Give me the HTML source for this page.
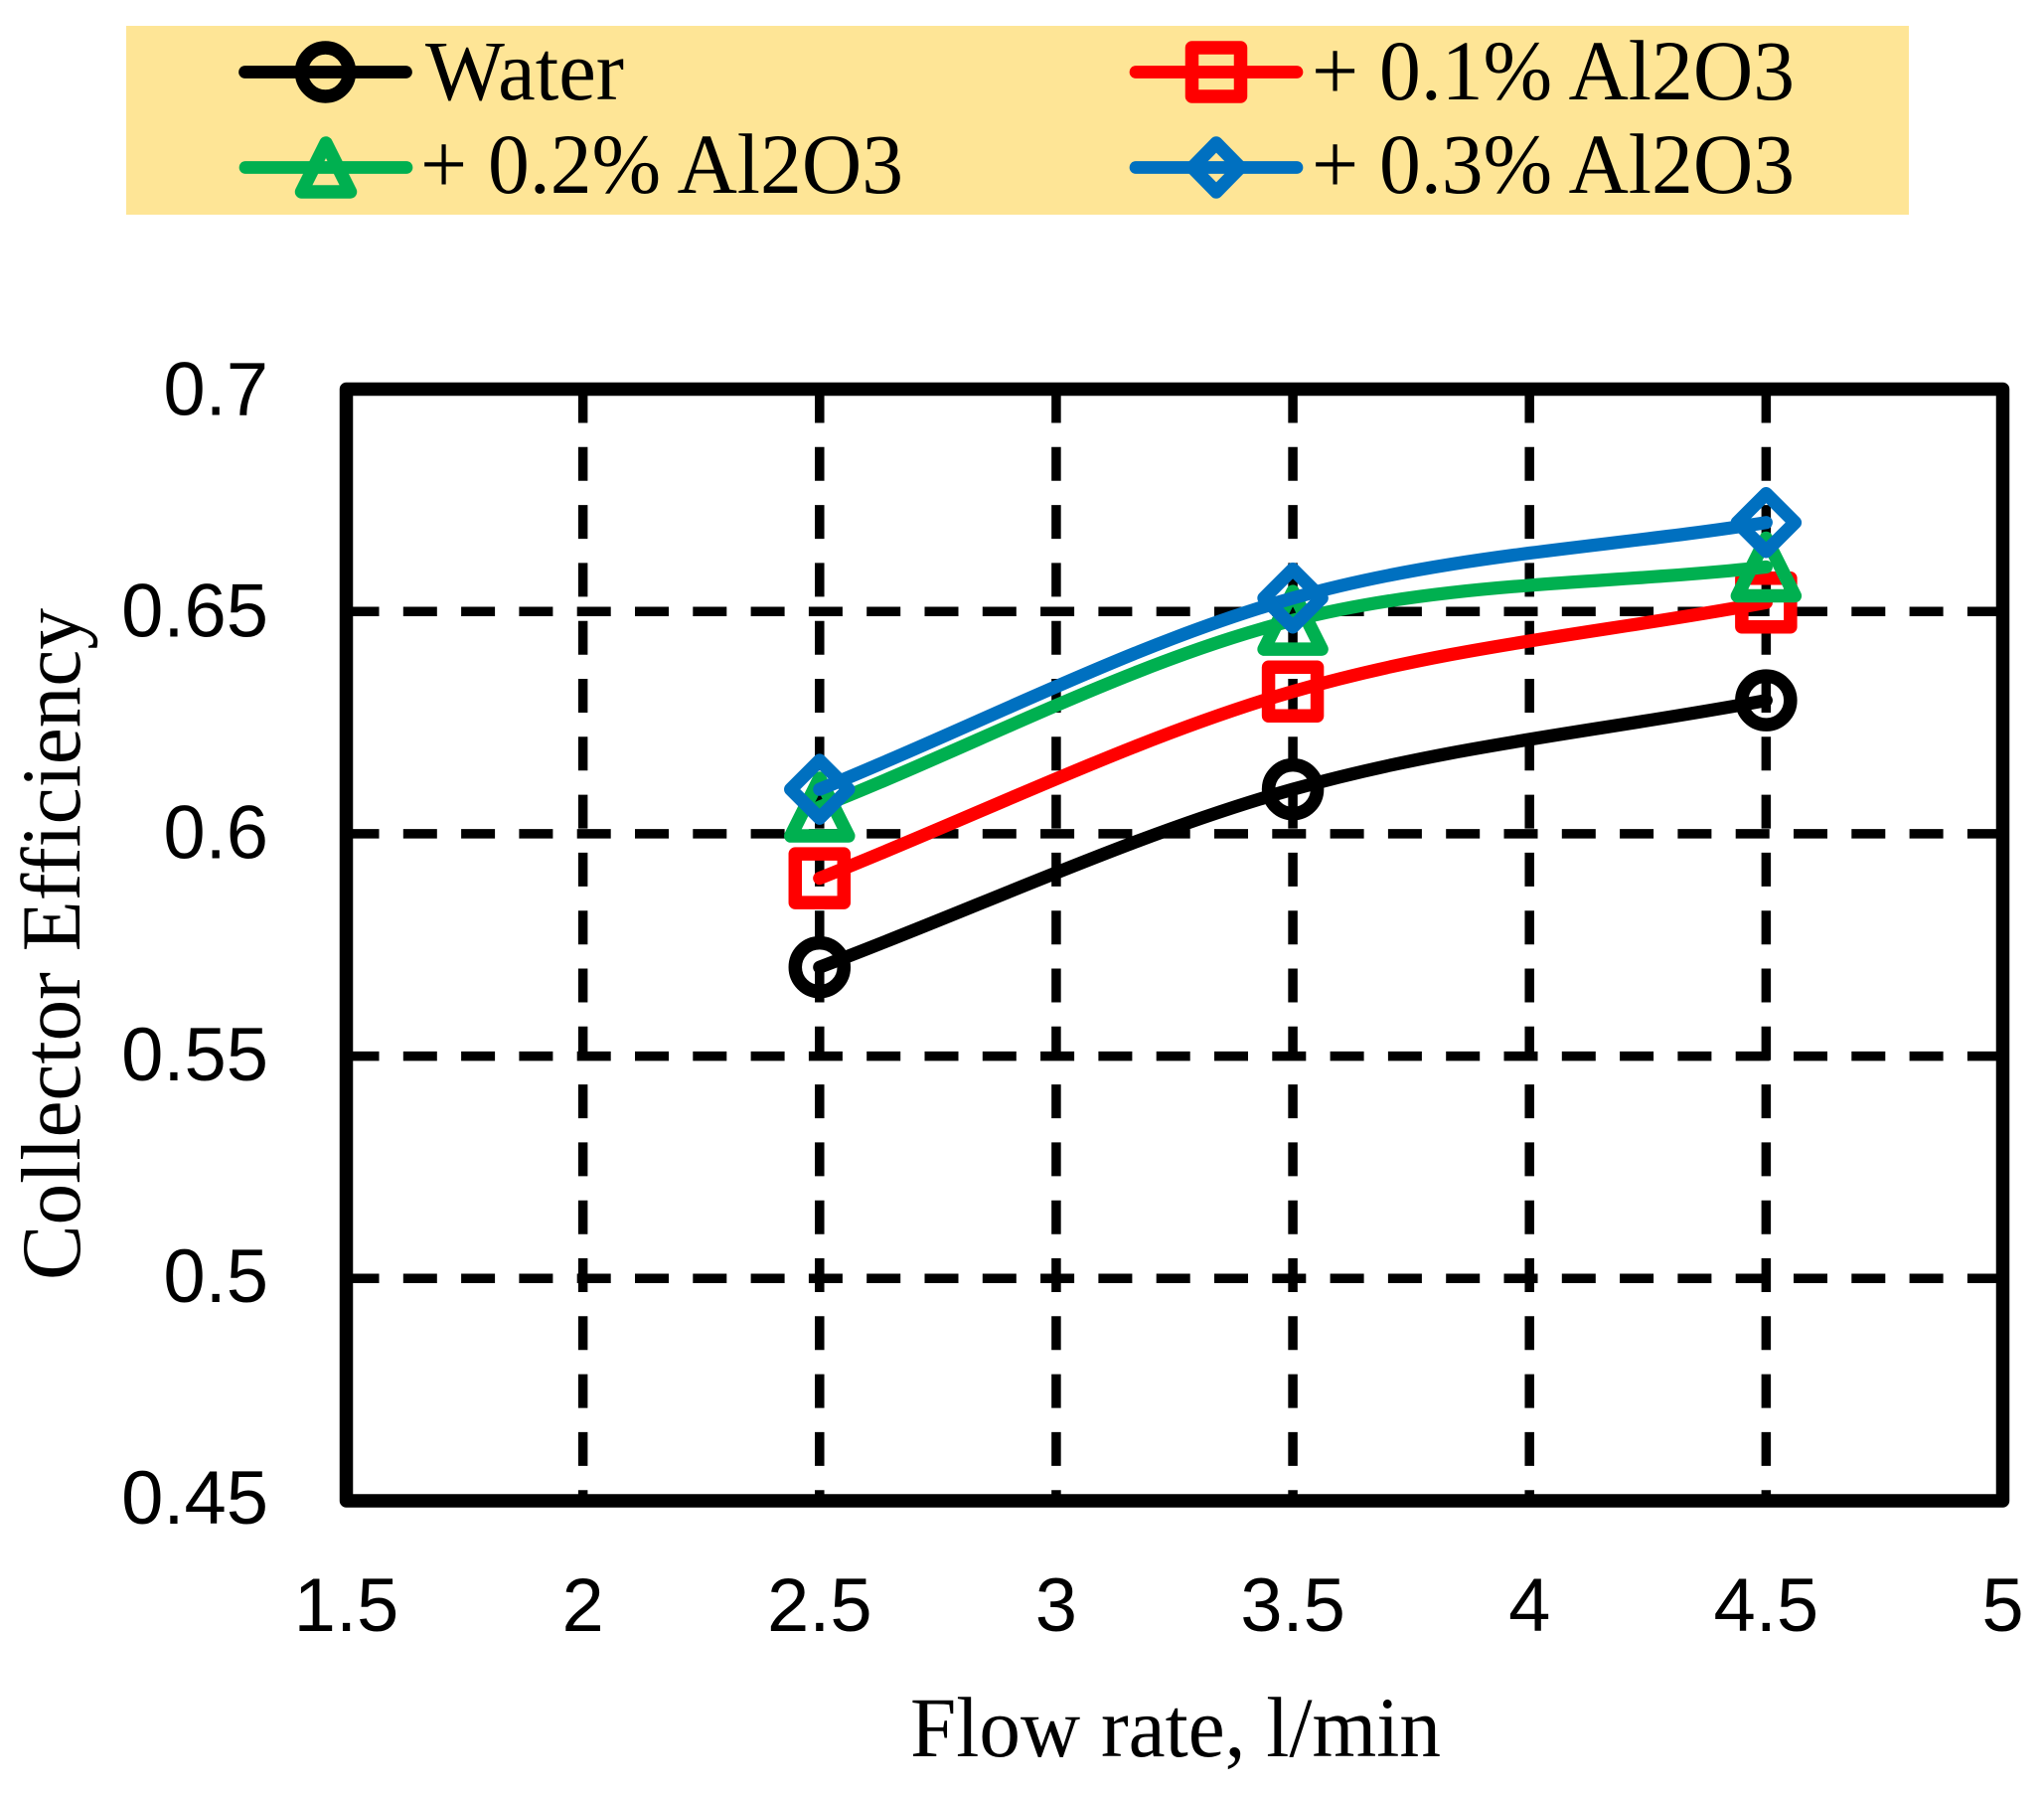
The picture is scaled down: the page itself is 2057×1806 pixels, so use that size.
<!DOCTYPE html>
<html lang="en">
<head>
<meta charset="utf-8">
<title>Collector Efficiency vs Flow Rate</title>
<style>
html,body{margin:0;padding:0;background:#fff;}
svg{display:block;}
.serif{font-family:"Liberation Serif",serif;fill:#000;}
.tick{font-family:"Liberation Sans",sans-serif;font-size:76px;fill:#000;}
</style>
</head>
<body>
<svg id="chart" xmlns="http://www.w3.org/2000/svg" width="2057" height="1806" viewBox="0 0 2057 1806">
  <rect width="2057" height="1806" fill="#fff"/>
  <g id="legend">
    <rect x="127" y="26" width="1794" height="190" fill="#FEE596"/>
    <text class="serif" x="428" y="100" font-size="86" textLength="200" lengthAdjust="spacingAndGlyphs">Water</text>
    <text class="serif" x="1320" y="100" font-size="86" textLength="486" lengthAdjust="spacingAndGlyphs">+ 0.1% Al2O3</text>
    <text class="serif" x="423" y="194" font-size="86" textLength="486" lengthAdjust="spacingAndGlyphs">+ 0.2% Al2O3</text>
    <text class="serif" x="1320" y="194" font-size="86" textLength="486" lengthAdjust="spacingAndGlyphs">+ 0.3% Al2O3</text>
  </g>
  <g id="grid"></g>
  <rect x="348.5" y="391.5" width="1667" height="1118.5" fill="none" stroke="#000" stroke-width="13.5" stroke-linejoin="round"/>
  <g id="ticks"></g>
  <text class="serif" x="916" y="1767" font-size="86" textLength="534" lengthAdjust="spacingAndGlyphs">Flow rate, l/min</text>
  <text class="serif" transform="translate(80,1288) rotate(-90)" x="0" y="0" font-size="85" textLength="676" lengthAdjust="spacingAndGlyphs">Collector Efficiency</text>
  <g id="series"></g>
</svg>
<script>
const flowRates = [2.5, 3.5, 4.5];
const waterValues = [0.57, 0.61, 0.63];
const al01Values = [0.59, 0.632, 0.652];
const al02Values = [0.606, 0.648, 0.66];
const al03Values = [0.61, 0.653, 0.67];
const xTickValues = [1.5, 2, 2.5, 3, 3.5, 4, 4.5, 5];
const yTickValues = [0.45, 0.5, 0.55, 0.6, 0.65, 0.7];
const xTickLabels = ['1.5', '2', '2.5', '3', '3.5', '4', '4.5', '5'];
const yTickLabels = ['0.45', '0.5', '0.55', '0.6', '0.65', '0.7'];

const NS = 'http://www.w3.org/2000/svg';
const X0 = 348.5, X1 = 2015.5, Y0 = 1510, Y1 = 391.5;
function xScale(v) { return X0 + (v - 1.5) / 3.5 * (X1 - X0); }
function yScale(v) { return Y0 - (v - 0.45) / 0.25 * (Y0 - Y1); }
function yLabelPos(v) { return 1533 - (v - 0.45) / 0.25 * 1115.5; }

function make(tag, parent, props) {
  const el = document.createElementNS(NS, tag);
  for (const k in props) el.setAttribute(k, props[k]);
  parent.appendChild(el);
  return el;
}

const gridG = document.getElementById('grid');
xTickValues.slice(1, -1).forEach(function (v) {
  const ln = make('line', gridG, { x1: xScale(v), x2: xScale(v), y1: Y1, y2: Y0, stroke: '#000', 'stroke-width': 9.5, 'stroke-dasharray': '34 24.3' });
  
  
});
yTickValues.slice(1, -1).forEach(function (v) {
  const ln = make('line', gridG, { x1: X0 - 1, x2: X1, y1: yScale(v), y2: yScale(v), stroke: '#000', 'stroke-width': 9.5, 'stroke-dasharray': '34 24.3' });
  
  
});

const ticksG = document.getElementById('ticks');
xTickValues.forEach(function (v, i) {
  const t = make('text', ticksG, { class: 'tick', x: xScale(v), y: 1641, 'text-anchor': 'middle' });
  t.textContent = xTickLabels[i];
  
  
});
yTickValues.forEach(function (v, i) {
  const t = make('text', ticksG, { class: 'tick', x: 270, y: yLabelPos(v), 'text-anchor': 'end' });
  t.textContent = yTickLabels[i];
  
  
});

function smoothPath(pts) {
  let d = 'M' + pts[0][0] + ' ' + pts[0][1];
  for (let i = 0; i < pts.length - 1; i++) {
    const p0 = pts[i - 1], p1 = pts[i], p2 = pts[i + 1], p3 = pts[i + 2];
    const c1 = p0 ? [p1[0] + (p2[0] - p0[0]) / 6, p1[1] + (p2[1] - p0[1]) / 6]
                  : [p1[0] + (p2[0] - p1[0]) / 3, p1[1] + (p2[1] - p1[1]) / 3];
    const c2 = p3 ? [p2[0] - (p3[0] - p1[0]) / 6, p2[1] - (p3[1] - p1[1]) / 6]
                  : [p2[0] - (p2[0] - p1[0]) / 3, p2[1] - (p2[1] - p1[1]) / 3];
    d += ' C' + c1[0] + ' ' + c1[1] + ' ' + c2[0] + ' ' + c2[1] + ' ' + p2[0] + ' ' + p2[1];
  }
  return d;
}

function drawMarker(parent, type, cx, cy, color, hx, hy) {
  const style = { fill: 'none', stroke: color, 'stroke-width': 13.5, 'stroke-linejoin': 'round' };
  if (type === 'circle') return make('ellipse', parent, Object.assign({ cx: cx, cy: cy, rx: hx, ry: hy }, style));
  if (type === 'square') return make('rect', parent, Object.assign({ x: cx - hx, y: cy - hy, width: 2 * hx, height: 2 * hy }, style));
  if (type === 'triangle') return make('polygon', parent, Object.assign({ points: cx + ',' + (cy - hy) + ' ' + (cx + hx) + ',' + (cy + hy) + ' ' + (cx - hx) + ',' + (cy + hy) }, style));
  return make('polygon', parent, Object.assign({ points: cx + ',' + (cy - hy) + ' ' + (cx + hx) + ',' + cy + ' ' + cx + ',' + (cy + hy) + ' ' + (cx - hx) + ',' + cy }, style));
}

const seriesG = document.getElementById('series');
const seriesList = [
  { key: 'water', values: waterValues, color: '#000000', type: 'circle', hx: 24.5, hy: 24.5, lx: 327.5, ly: 72.5, lhx: 24, lhy: 24.5 },
  { key: 'al2o3-0-1', values: al01Values, color: '#FF0000', type: 'square', hx: 24.5, hy: 24.5, lx: 1224, ly: 72.5, lhx: 24.5, lhy: 24.5 },
  { key: 'al2o3-0-2', values: al02Values, color: '#00B050', type: 'triangle', hx: 29, hy: 29, lx: 328, ly: 168.5, lhx: 24.5, lhy: 24.5 },
  { key: 'al2o3-0-3', values: al03Values, color: '#0070C0', type: 'diamond', hx: 29, hy: 29, lx: 1224, ly: 168.5, lhx: 24, lhy: 24.5 }
];

seriesList.forEach(function (s) {
  const pts = s.values.map(function (v, i) { return [xScale(flowRates[i]), yScale(v)]; });
  const path = make('path', seriesG, { d: smoothPath(pts), fill: 'none', stroke: s.color, 'stroke-width': 13.2, 'stroke-linecap': 'round', 'stroke-linejoin': 'round' });
  
  
  pts.forEach(function (p) {
    const m = drawMarker(seriesG, s.type, p[0], p[1], s.color, s.hx, s.hy);
    
    
  });
});

const legendG = document.getElementById('legend');
seriesList.forEach(function (s) {
  const ln = make('line', legendG, { x1: s.lx - 81, x2: s.lx + 81, y1: s.ly, y2: s.ly, stroke: s.color, 'stroke-width': 12.7, 'stroke-linecap': 'round' });
  
  
  const m = drawMarker(legendG, s.type, s.lx, s.ly, s.color, s.lhx, s.lhy);
  
  
});
</script>
</body>
</html>
